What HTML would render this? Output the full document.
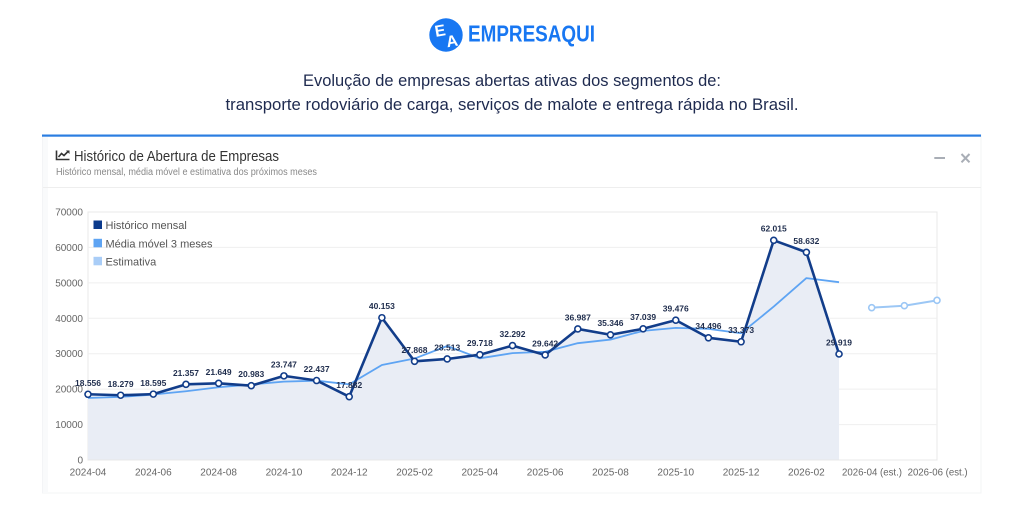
<!DOCTYPE html>
<html>
<head>
<meta charset="utf-8">
<style>
  html,body{margin:0;padding:0;background:#fff;}
  body{width:1024px;height:512px;overflow:hidden;}
  svg{display:block;}
  text{font-family:"Liberation Sans", sans-serif;}
</style>
</head>
<body>
<svg width="1024" height="512" viewBox="0 0 1024 512" xmlns="http://www.w3.org/2000/svg">
  <rect x="0" y="0" width="1024" height="512" fill="#ffffff"/>

  <!-- Logo -->
  <circle cx="446" cy="35" r="16.7" fill="#1877f2"/>
  <text x="440" y="36" font-size="16" font-weight="bold" fill="#fff" text-anchor="middle" transform="rotate(-10 440 30)">E</text>
  <text x="452" y="46.5" font-size="16" font-weight="bold" fill="#fff" text-anchor="middle" transform="rotate(-10 452 41)">A</text>
  <text x="468" y="41.7" font-size="23" font-weight="bold" fill="#1877f2" textLength="127" lengthAdjust="spacingAndGlyphs">EMPRESAQUI</text>

  <!-- Page title -->
  <text x="512" y="86" font-size="17" fill="#1e2a4f" text-anchor="middle" textLength="418" lengthAdjust="spacingAndGlyphs">Evolução de empresas abertas ativas dos segmentos de:</text>
  <text x="512" y="110" font-size="17" fill="#1e2a4f" text-anchor="middle" textLength="573" lengthAdjust="spacingAndGlyphs">transporte rodoviário de carga, serviços de malote e entrega rápida no Brasil.</text>

  <!-- Card -->
  <rect x="42.5" y="135" width="938.5" height="358" fill="#ffffff" stroke="#f3f4f6" stroke-width="1"/>
  <rect x="43" y="137" width="5" height="356" fill="#f9fafb"/>
  <rect x="42" y="134.5" width="939" height="2.2" fill="#2a7de1"/>
  <line x1="43" y1="187.5" x2="981" y2="187.5" stroke="#eeeeee" stroke-width="1"/>

  <!-- header icon -->
  <g stroke="#333" fill="none" stroke-width="1.6">
    <polyline points="56.5,150.5 56.5,159.5 69.5,159.5"/>
    <polyline points="58.5,157 61.5,153.5 64,155.5 68.5,151"/>
  </g>
  <polygon points="66,150.5 69.5,150.5 69.5,154" fill="#333"/>
  <text x="74" y="161" font-size="14.5" fill="#333" textLength="205" lengthAdjust="spacingAndGlyphs">Histórico de Abertura de Empresas</text>
  <text x="56" y="175" font-size="10" fill="#888" textLength="261" lengthAdjust="spacingAndGlyphs">Histórico mensal, média móvel e estimativa dos próximos meses</text>

  <!-- header controls -->
  <rect x="934.3" y="157" width="10.7" height="2" fill="#a9aeb6"/>
  <g stroke="#a9aeb6" stroke-width="2">
    <line x1="961.5" y1="154" x2="969.5" y2="162.3"/>
    <line x1="969.5" y1="154" x2="961.5" y2="162.3"/>
  </g>

  <!-- Plot frame & grid -->
  <rect x="88" y="212" width="849" height="248" fill="#ffffff" stroke="#e8e8e8" stroke-width="1"/>
  <g stroke="#efefef" stroke-width="1">
    <line x1="88" y1="247.43" x2="937" y2="247.43"/>
    <line x1="88" y1="282.86" x2="937" y2="282.86"/>
    <line x1="88" y1="318.29" x2="937" y2="318.29"/>
    <line x1="88" y1="353.71" x2="937" y2="353.71"/>
    <line x1="88" y1="389.14" x2="937" y2="389.14"/>
    <line x1="88" y1="424.57" x2="937" y2="424.57"/>
  </g>

  <!-- Y labels -->
  <g font-size="10" fill="#666" text-anchor="end">
    <text x="83" y="215.5">70000</text>
    <text x="83" y="250.9">60000</text>
    <text x="83" y="286.4">50000</text>
    <text x="83" y="321.8">40000</text>
    <text x="83" y="357.2">30000</text>
    <text x="83" y="392.6">20000</text>
    <text x="83" y="428.1">10000</text>
    <text x="83" y="463.5">0</text>
  </g>

  <!-- Area fill -->
  <polygon fill="#e9edf5" points="88,394.26 120.65,395.24 153.31,394.12 185.96,384.33 218.62,383.30 251.27,385.66 283.92,375.87 316.58,380.51 349.23,396.65 381.89,317.74 414.54,361.27 447.19,358.98 479.85,354.71 512.50,345.59 545.16,354.98 577.81,328.96 610.46,334.77 643.12,328.78 675.77,320.14 708.43,337.78 741.08,341.76 773.73,240.29 806.39,252.27 839.04,354.00 839.04,460 88,460"/>
  <line x1="88" y1="460" x2="937" y2="460" stroke="#e8e8e8" stroke-width="1"/>

  <!-- Moving average -->
  <polyline fill="none" stroke="#5ea4f3" stroke-width="1.8" stroke-linejoin="round" points="88,398 120.65,396.9 153.31,394.54 185.96,391.23 218.62,387.25 251.27,384.43 283.92,381.61 316.58,380.68 349.23,384.34 381.89,364.97 414.54,358.55 447.19,345.99 479.85,358.32 512.50,353.10 545.16,351.76 577.81,343.18 610.46,339.57 643.12,330.84 675.77,327.90 708.43,328.90 741.08,333.23 773.73,306.61 806.39,278.11 839.04,282.18"/>

  <!-- Historical -->
  <polyline fill="none" stroke="#123d8a" stroke-width="2.6" stroke-linejoin="round" points="88,394.26 120.65,395.24 153.31,394.12 185.96,384.33 218.62,383.30 251.27,385.66 283.92,375.87 316.58,380.51 349.23,396.65 381.89,317.74 414.54,361.27 447.19,358.98 479.85,354.71 512.50,345.59 545.16,354.98 577.81,328.96 610.46,334.77 643.12,328.78 675.77,320.14 708.43,337.78 741.08,341.76 773.73,240.29 806.39,252.27 839.04,354.00"/>
  <g fill="#ffffff" stroke="#123d8a" stroke-width="1.6">
    <circle cx="88" cy="394.26" r="3"/>
    <circle cx="120.65" cy="395.24" r="3"/>
    <circle cx="153.31" cy="394.12" r="3"/>
    <circle cx="185.96" cy="384.33" r="3"/>
    <circle cx="218.62" cy="383.30" r="3"/>
    <circle cx="251.27" cy="385.66" r="3"/>
    <circle cx="283.92" cy="375.87" r="3"/>
    <circle cx="316.58" cy="380.51" r="3"/>
    <circle cx="349.23" cy="396.65" r="3"/>
    <circle cx="381.89" cy="317.74" r="3"/>
    <circle cx="414.54" cy="361.27" r="3"/>
    <circle cx="447.19" cy="358.98" r="3"/>
    <circle cx="479.85" cy="354.71" r="3"/>
    <circle cx="512.50" cy="345.59" r="3"/>
    <circle cx="545.16" cy="354.98" r="3"/>
    <circle cx="577.81" cy="328.96" r="3"/>
    <circle cx="610.46" cy="334.77" r="3"/>
    <circle cx="643.12" cy="328.78" r="3"/>
    <circle cx="675.77" cy="320.14" r="3"/>
    <circle cx="708.43" cy="337.78" r="3"/>
    <circle cx="741.08" cy="341.76" r="3"/>
    <circle cx="773.73" cy="240.29" r="3"/>
    <circle cx="806.39" cy="252.27" r="3"/>
    <circle cx="839.04" cy="354.00" r="3"/>
  </g>

  <!-- Estimate -->
  <polyline fill="none" stroke="#9cc7f5" stroke-width="2" points="871.70,307.66 904.35,305.71 937,300.33"/>
  <g fill="#ffffff" stroke="#9cc7f5" stroke-width="1.6">
    <circle cx="871.70" cy="307.66" r="3"/>
    <circle cx="904.35" cy="305.71" r="3"/>
    <circle cx="937" cy="300.33" r="3"/>
  </g>

  <!-- Data labels -->
  <g font-size="8.5" font-weight="bold" fill="#1f2d4d" text-anchor="middle">
    <text x="88" y="386">18.556</text>
    <text x="120.65" y="387">18.279</text>
    <text x="153.31" y="386">18.595</text>
    <text x="185.96" y="376">21.357</text>
    <text x="218.62" y="375">21.649</text>
    <text x="251.27" y="377">20.983</text>
    <text x="283.92" y="367.5">23.747</text>
    <text x="316.58" y="372">22.437</text>
    <text x="349.23" y="388">17.882</text>
    <text x="381.89" y="309">40.153</text>
    <text x="414.54" y="353">27.868</text>
    <text x="447.19" y="350.5">28.513</text>
    <text x="479.85" y="346">29.718</text>
    <text x="512.50" y="337">32.292</text>
    <text x="545.16" y="346.5">29.642</text>
    <text x="577.81" y="320.5">36.987</text>
    <text x="610.46" y="326">35.346</text>
    <text x="643.12" y="320">37.039</text>
    <text x="675.77" y="311.5">39.476</text>
    <text x="708.43" y="329">34.496</text>
    <text x="741.08" y="333">33.373</text>
    <text x="773.73" y="231.5">62.015</text>
    <text x="806.39" y="244">58.632</text>
    <text x="839.04" y="345.5">29.919</text>
  </g>

  <!-- Legend -->
  <rect x="93.5" y="220.5" width="8.5" height="8.5" fill="#0b3a8c"/>
  <rect x="93.5" y="238.8" width="8.5" height="8.5" fill="#5ea4f3"/>
  <rect x="93.5" y="256.8" width="8.5" height="8.5" fill="#a9cdf7"/>
  <g font-size="11" fill="#555">
    <text x="105.5" y="229">Histórico mensal</text>
    <text x="105.5" y="247.3">Média móvel 3 meses</text>
    <text x="105.5" y="265.3">Estimativa</text>
  </g>

  <!-- X labels -->
  <g font-size="10" fill="#666" text-anchor="middle">
    <text x="88" y="475.5">2024-04</text>
    <text x="153.31" y="475.5">2024-06</text>
    <text x="218.62" y="475.5">2024-08</text>
    <text x="283.92" y="475.5">2024-10</text>
    <text x="349.23" y="475.5">2024-12</text>
    <text x="414.54" y="475.5">2025-02</text>
    <text x="479.85" y="475.5">2025-04</text>
    <text x="545.16" y="475.5">2025-06</text>
    <text x="610.46" y="475.5">2025-08</text>
    <text x="675.77" y="475.5">2025-10</text>
    <text x="741.08" y="475.5">2025-12</text>
    <text x="806.39" y="475.5">2026-02</text>
    <text x="872" y="475.5" textLength="60" lengthAdjust="spacingAndGlyphs">2026-04 (est.)</text>
    <text x="937.6" y="475.5" textLength="60" lengthAdjust="spacingAndGlyphs">2026-06 (est.)</text>
  </g>
</svg>
</body>
</html>
